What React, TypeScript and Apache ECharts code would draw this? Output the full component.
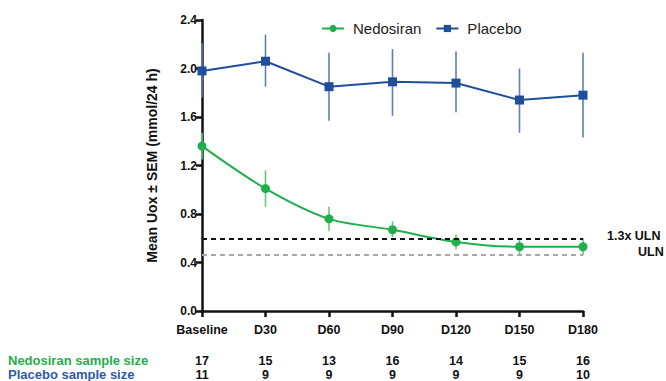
import React, { useEffect, useRef } from "react";
import * as echarts from "echarts";

const categories = ["Baseline", "D30", "D60", "D90", "D120", "D150", "D180"];
const nedoMean = [1.36, 1.01, 0.76, 0.67, 0.57, 0.53, 0.53];
const nedoLow = [1.25, 0.86, 0.66, 0.61, 0.51, 0.46, 0.46];
const nedoHigh = [1.47, 1.16, 0.86, 0.74, 0.63, 0.6, 0.6];
const placMean = [1.98, 2.06, 1.85, 1.89, 1.88, 1.74, 1.78];
const placLow = [1.76, 1.85, 1.57, 1.61, 1.64, 1.47, 1.43];
const placHigh = [2.21, 2.28, 2.13, 2.16, 2.14, 2.0, 2.13];
const nedoN = [17, 15, 13, 16, 14, 15, 16];
const placN = [11, 9, 9, 9, 9, 9, 10];
const refLines = [
  { name: "1.3x ULN", value: 0.6 },
  { name: "ULN", value: 0.46 },
];

const GREEN = "#20b04b";
const BLUE = "#1f4e9c";
const FONT = "'Liberation Sans', Arial, sans-serif";

function errorSeries(low: number[], high: number[], color: string) {
  return {
    type: "custom",
    silent: true,
    z: 1,
    data: low.map((l, i) => [i, l, high[i]]),
    encode: { x: 0, y: [1, 2] },
    renderItem: (params: any, api: any) => {
      const p1 = api.coord([api.value(0), api.value(1)]);
      const p2 = api.coord([api.value(0), api.value(2)]);
      return {
        type: "line",
        shape: { x1: p1[0], y1: p1[1], x2: p2[0], y2: p2[1] },
        style: { stroke: color, lineWidth: 1.6 },
      };
    },
  };
}

export default function App() {
  const ref = useRef<HTMLDivElement>(null);
  useEffect(() => {
    if (!ref.current) return;
    const chart = echarts.init(ref.current, undefined, { renderer: "svg" });
    const boldLabel = { fontFamily: FONT, fontWeight: "bold", fontSize: 12, color: "#111" };
    const sampleAxis = (vals: number[], offset: number) => ({
      type: "category",
      data: vals.map(String),
      boundaryGap: false,
      position: "bottom",
      offset,
      axisLine: { show: false },
      axisTick: { show: false },
      axisLabel: { ...boldLabel, fontSize: 12.5, margin: 0, interval: 0 },
    });
    chart.setOption({
      animation: false,
      textStyle: { fontFamily: FONT },
      grid: { left: 202, right: 83, top: 20, bottom: 68 },
      legend: {
        left: 316,
        top: 16,
        itemWidth: 22,
        itemHeight: 9,
        itemGap: 14,
        textStyle: { fontFamily: FONT, fontSize: 15, color: "#222", padding: [0, 0, 0, 4] },
        data: ["Nedosiran", "Placebo"],
      },
      xAxis: [
        {
          type: "category",
          data: categories,
          boundaryGap: false,
          axisLine: { lineStyle: { color: "#111", width: 2.5 } },
          axisTick: { length: 6, lineStyle: { color: "#111", width: 2.5 } },
          axisLabel: { ...boldLabel, fontSize: 12.5, margin: 12, interval: 0 },
        },
        sampleAxis(nedoN, 43.5),
        sampleAxis(placN, 57),
      ],
      yAxis: {
        type: "value",
        min: 0,
        max: 2.4,
        interval: 0.4,
        name: "Mean Uox ± SEM (mmol/24 h)",
        nameLocation: "middle",
        nameGap: 43,
        nameTextStyle: { fontFamily: FONT, fontWeight: "bold", fontSize: 14, color: "#111" },
        axisLine: { show: true, lineStyle: { color: "#111", width: 2.5 } },
        axisTick: { show: true, length: 6, lineStyle: { color: "#111", width: 2.5 } },
        splitLine: { show: false },
        axisLabel: { ...boldLabel, margin: 5, formatter: (v: number) => v.toFixed(1) },
      },
      series: [
        errorSeries(placLow, placHigh, "#5f80bd"),
        errorSeries(nedoLow, nedoHigh, "#62c97e"),
        {
          name: "Nedosiran",
          type: "line",
          data: nedoMean,
          smooth: 0.3,
          z: 3,
          symbol: "circle",
          symbolSize: 9,
          itemStyle: { color: GREEN },
          lineStyle: { color: GREEN, width: 2 },
          markLine: {
            silent: true,
            symbol: "none",
            data: [
              {
                yAxis: refLines[0].value,
                lineStyle: { color: "#111", type: [5, 4], width: 1.8 },
                label: {
                  formatter: refLines[0].name,
                  position: "end",
                  distance: 24,
                  offset: [0, -2],
                  ...boldLabel,
                  fontSize: 12.5,
                },
              },
              {
                yAxis: refLines[1].value,
                lineStyle: { color: "#a8a8a8", type: [5, 4], width: 1.8 },
                label: {
                  formatter: refLines[1].name,
                  position: "end",
                  distance: 55,
                  offset: [0, -3],
                  ...boldLabel,
                  fontSize: 12.5,
                },
              },
            ],
          },
        },
        {
          name: "Placebo",
          type: "line",
          data: placMean,
          z: 3,
          symbol: "rect",
          symbolSize: 9,
          itemStyle: { color: BLUE },
          lineStyle: { color: BLUE, width: 2 },
        },
      ],
      graphic: [
        {
          type: "text",
          x: 8,
          y: 354,
          style: {
            text: "Nedosiran sample size",
            fill: GREEN,
            font: `bold 13px ${FONT}`,
          },
        },
        {
          type: "text",
          x: 8,
          y: 368,
          style: {
            text: "Placebo sample size",
            fill: "#2e5aa8",
            font: `bold 13px ${FONT}`,
          },
        },
      ],
    });
    return () => chart.dispose();
  }, []);
  return <div ref={ref} style={{ width: 666, height: 381, position: "absolute", left: 0, top: 0 }} />;
}
